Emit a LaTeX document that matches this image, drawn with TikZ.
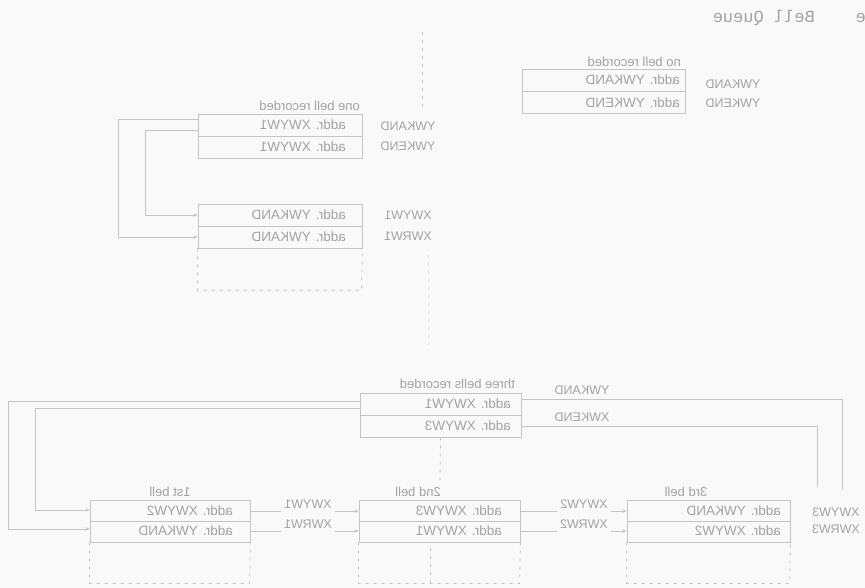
\documentclass[tikz,border=0pt]{standalone}
\usepackage{graphicx}
\usepackage{fontspec}
\setmainfont{Liberation Sans}
\newfontfamily\monof{Liberation Mono}
\usetikzlibrary{arrows.meta}
\newcommand{\mir}[1]{\reflectbox{#1}}
\definecolor{ln}{HTML}{C4C4C4}
\definecolor{tx}{HTML}{A2A2A2}
\definecolor{bg}{HTML}{F9F9F9}
\begin{document}
\begin{tikzpicture}[x=1pt,y=-1pt,
  txt/.style={text=tx,font=\fontsize{13.5}{13.5}\selectfont,inner sep=0pt},
  lbl/.style={text=tx,font=\fontsize{12.5}{12.5}\selectfont,inner sep=0pt},
  hdr/.style={text=tx,font=\fontsize{13}{13}\selectfont,inner sep=0pt},
  box/.style={draw=ln,line width=0.9pt,inner sep=0pt,minimum height=44pt},
  wire/.style={draw=ln,line width=0.8pt},
  dsh/.style={draw=ln,line width=0.8pt,dash pattern=on 3pt off 5pt},
  tip/.style={-{Stealth[length=4pt,width=3.5pt]}}
]
\fill[bg] (0,0) rectangle (865,588);
\useasboundingbox (0,0) rectangle (865,588);

% title
\node[text=tx,inner sep=0pt,anchor=east,font=\monof\fontsize{17}{17}\selectfont] (title) at (866,18) {\mir{e~~~~Bell~Queue}};

% boxes
\node[box,minimum width=163pt] (A) at (603.5,91.5) {};
\node[box,minimum width=164pt] (B) at (280,136) {};
\node[box,minimum width=164pt] (C) at (280,226) {};
\node[box,minimum width=161pt] (D) at (440.5,415) {};
\node[box,minimum width=160pt,minimum height=42pt] (E) at (170,521) {};
\node[box,minimum width=161pt,minimum height=42pt] (F) at (439.5,521) {};
\node[box,minimum width=163pt,minimum height=42pt] (G) at (708.5,521) {};
\foreach \b in {A,B,C,D,E,F,G} \draw[wire] (\b.west) -- (\b.east);

% dashed continuations
\draw[dsh] (C.south west) -- ++(0,42) -- ++(164,0) -- (C.south east);
\draw[dsh] (E.south west) -- ++(0,41) -- ++(160,0) -- (E.south east);
\draw[dsh] (F.south west) -- ++(0,41) -- ++(161,0) -- (F.south east);
\draw[dsh] (G.south west) -- ++(0,41) -- ++(163,0) -- (G.south east);

% headers
\node[hdr,anchor=east] (hA) at (681,62) {\mir{no bell recorded}};
\node[hdr,anchor=east] (hB) at (360,106) {\mir{one bell recorded}};
\node[hdr,anchor=east] (hD) at (515,384) {\mir{three bells recorded}};
\node[hdr] (hE) at (170,492) {\mir{1st bell}};
\node[hdr] (hF) at (418,492) {\mir{2nd bell}};
\node[hdr] (hG) at (686,492) {\mir{3rd bell}};

% row texts
\node[txt,anchor=east] (a1) at (680,80) {\mir{addr. YWKAND}};
\node[txt,anchor=east] (a2) at (680,103) {\mir{addr. YWKEND}};
\node[txt,anchor=east] (b1) at (346,125) {\mir{addr. XWYW1}};
\node[txt,anchor=east] (b2) at (346,147) {\mir{addr. XWYW1}};
\node[txt,anchor=east] (c1) at (346,215) {\mir{addr. YWKAND}};
\node[txt,anchor=east] (c2) at (346,237) {\mir{addr. YWKAND}};
\node[txt,anchor=east] (d1) at (511,404) {\mir{addr. XWYW1}};
\node[txt,anchor=east] (d2) at (511,426) {\mir{addr. XWYW3}};
\node[txt,anchor=east] (e1) at (233,511) {\mir{addr. XWYW2}};
\node[txt,anchor=east] (e2) at (233,531) {\mir{addr. YWKAND}};
\node[txt,anchor=east] (f1) at (502,511) {\mir{addr. XWYW3}};
\node[txt,anchor=east] (f2) at (502,531) {\mir{addr. XWYW1}};
\node[txt,anchor=east] (g1) at (781,511) {\mir{addr. YWKAND}};
\node[txt,anchor=east] (g2) at (781,531) {\mir{addr. XWYW2}};

% side labels
\node[lbl] (lA1) at (733,84) {\mir{YWKAND}};
\node[lbl] (lA2) at (733,103) {\mir{YWKEND}};
\node[lbl] (lB1) at (408,126) {\mir{YWKAND}};
\node[lbl] (lB2) at (408,146) {\mir{YWKEND}};
\node[lbl] (lC1) at (408,215) {\mir{XWYW1}};
\node[lbl] (lC2) at (408,236) {\mir{XWRW1}};
\node[lbl] (lD1) at (582,390) {\mir{YWKAND}};
\node[lbl] (lD2) at (582,417) {\mir{XWKEND}};
\node[lbl] (lEF1) at (308,504) {\mir{XWYW1}};
\node[lbl] (lEF2) at (308,524) {\mir{XWRW1}};
\node[lbl] (lFG1) at (584,504) {\mir{XWYW2}};
\node[lbl] (lFG2) at (584,524) {\mir{XWRW2}};
\node[lbl] (lG1) at (836,512) {\mir{XWYW3}};
\node[lbl] (lG2) at (836,529) {\mir{XWRW3}};

% coordinates for loops
\coordinate (bo) at (B.west |- 0,119);
\coordinate (bi) at (B.west |- 0,130);
\coordinate (co) at (C.west |- 0,237);
\coordinate (ci) at (C.west |- 0,215);
\coordinate (do) at (D.west |- 0,401);
\coordinate (di) at (D.west |- 0,408);
\coordinate (eo) at (E.west |- 0,529);
\coordinate (ei) at (E.west |- 0,510);
\coordinate (dr1) at (D.east |- 0,399);
\coordinate (dr2) at (D.east |- 0,426);
\coordinate (rv1) at (842,490);
\coordinate (rv2) at (817,487);

% left loops
\draw[wire,tip] (bo) -- (118,119) -- (118,237) -- (co);
\draw[wire,tip] (bi) -- (145,130) -- (145,215) -- (ci);
\draw[wire,tip] (do) -- (8,401) -- (8,529) -- (eo);
\draw[wire,tip] (di) -- (35,408) -- (35,510) -- (ei);

% right loops from D
\draw[wire] (dr1) -- (842,399) -- (rv1);
\draw[wire] (dr2) -- (817,426) -- (rv2);

% links between bell boxes
\draw[wire] (E.east |- 0,511) -- ([xshift=-3pt]lEF1.west |- 0,511);
\draw[wire,tip] ([xshift=3pt]lEF1.east |- 0,511) -- (F.west |- 0,511);
\draw[wire] (E.east |- 0,531) -- ([xshift=-3pt]lEF2.west |- 0,531);
\draw[wire,tip] ([xshift=3pt]lEF2.east |- 0,531) -- (F.west |- 0,531);
\draw[wire] (F.east |- 0,511) -- ([xshift=-3pt]lFG1.west |- 0,511);
\draw[wire,tip] ([xshift=3pt]lFG1.east |- 0,511) -- (G.west |- 0,511);
\draw[wire] (F.east |- 0,531) -- ([xshift=-3pt]lFG2.west |- 0,531);
\draw[wire,tip] ([xshift=3pt]lFG2.east |- 0,531) -- (G.west |- 0,531);

% faint vertical dashed guides
\draw[dsh] (422,32) -- (422,108);
\draw[dsh,draw=ln!60] (428,255) -- (428,345);
\draw[dsh] (D.south) -- (440,484);
\draw[dsh] (430,548) -- (430,586);
\end{tikzpicture}
\end{document}
